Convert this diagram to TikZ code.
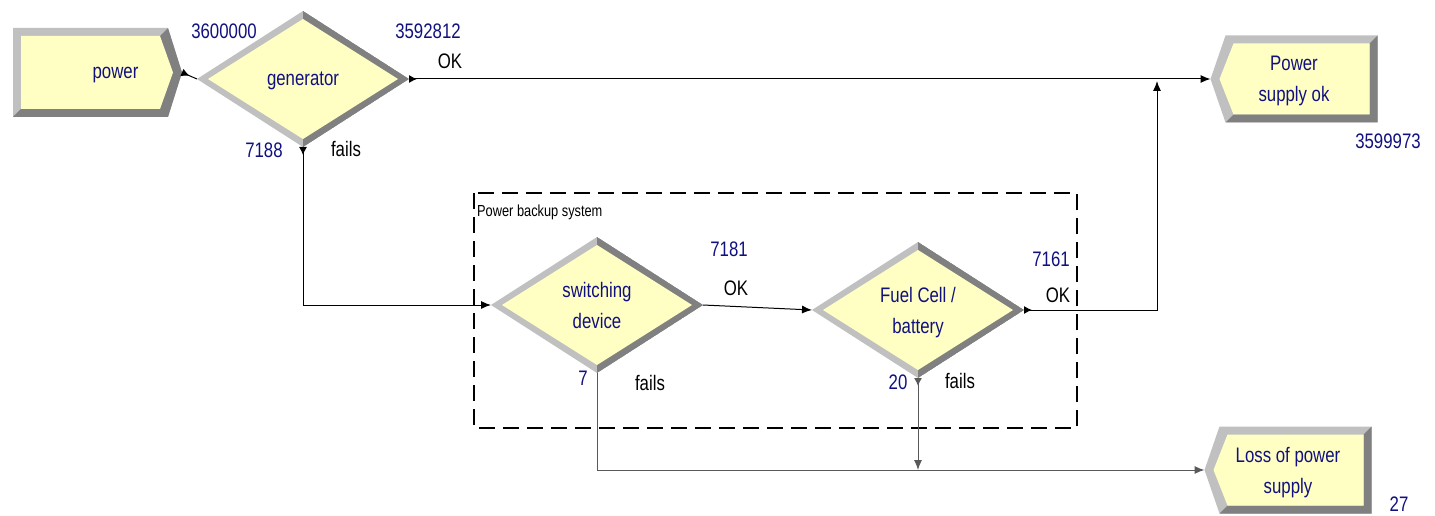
\documentclass[tikz,border=0pt]{standalone}
\usepackage{fontspec}
\setmainfont{Liberation Sans}[FakeStretch=0.8]
\usetikzlibrary{arrows.meta,shapes.geometric}
\definecolor{navy}{RGB}{16,16,128}
\definecolor{bevlight}{RGB}{192,192,192}
\definecolor{bevdark}{RGB}{128,128,128}
\definecolor{modfill}{RGB}{255,255,196}

\begin{document}
\begin{tikzpicture}[x=1pt, y=-1pt,
  modtext/.style={text=navy, align=center, text depth=0pt, font=\fontsize{21}{31}\selectfont},
  decide/.style={diamond, modtext, minimum width=212pt, minimum height=136pt,
    inner sep=0pt, outer sep=0pt, fill=bevlight,
    path picture={
      \fill[bevdark] (path picture bounding box.north) -- (path picture bounding box.east)
        -- (path picture bounding box.south) -- cycle;
      \fill[modfill] ([yshift=-8pt]path picture bounding box.north)
        -- ([xshift=-11pt]path picture bounding box.east)
        -- ([yshift=8pt]path picture bounding box.south)
        -- ([xshift=11pt]path picture bounding box.west) -- cycle;
    }},
  create/.style={rectangle, modtext, minimum width=169pt, minimum height=89pt,
    inner sep=0pt, outer sep=0pt,
    path picture={
      \fill[bevlight] (path picture bounding box.north west)
        -- ([xshift=-14pt]path picture bounding box.north east)
        -- (path picture bounding box.east)
        -- ([xshift=-14pt]path picture bounding box.south east)
        -- (path picture bounding box.south west) -- cycle;
      \fill[bevdark] (path picture bounding box.south west)
        -- ([xshift=-14pt]path picture bounding box.south east)
        -- (path picture bounding box.east)
        -- ([xshift=-14pt]path picture bounding box.north east)
        -- ([xshift=-22pt,yshift=-8pt]path picture bounding box.north east)
        -- ([xshift=-22pt,yshift=8pt]path picture bounding box.south east)
        -- ([xshift=8pt,yshift=8pt]path picture bounding box.south west) -- cycle;
      \fill[modfill] ([xshift=8pt,yshift=-8pt]path picture bounding box.north west)
        -- ([xshift=-22pt,yshift=-8pt]path picture bounding box.north east)
        -- ([xshift=-9pt]path picture bounding box.east)
        -- ([xshift=-22pt,yshift=8pt]path picture bounding box.south east)
        -- ([xshift=8pt,yshift=8pt]path picture bounding box.south west) -- cycle;
    }},
  dispose/.style={rectangle, modtext, minimum width=167pt, minimum height=87pt,
    inner sep=0pt, outer sep=0pt,
    path picture={
      \fill[bevlight] (path picture bounding box.north east)
        -- ([xshift=15pt]path picture bounding box.north west)
        -- (path picture bounding box.west)
        -- ([xshift=15pt]path picture bounding box.south west)
        -- (path picture bounding box.south east) -- cycle;
      \fill[bevdark] (path picture bounding box.north east)
        -- (path picture bounding box.south east)
        -- ([xshift=15pt]path picture bounding box.south west)
        -- ([xshift=23pt,yshift=8pt]path picture bounding box.south west)
        -- ([xshift=-8pt,yshift=8pt]path picture bounding box.south east)
        -- ([xshift=-8pt,yshift=-8pt]path picture bounding box.north east) -- cycle;
      \fill[modfill] ([xshift=23pt,yshift=-8pt]path picture bounding box.north west)
        -- ([xshift=-8pt,yshift=-8pt]path picture bounding box.north east)
        -- ([xshift=-8pt,yshift=8pt]path picture bounding box.south east)
        -- ([xshift=23pt,yshift=8pt]path picture bounding box.south west)
        -- ([xshift=9pt]path picture bounding box.west) -- cycle;
    }},
  count/.style={text=navy, inner sep=0pt, font=\fontsize{21}{25}\selectfont},
  branch/.style={text=black, inner sep=0pt, font=\fontsize{21}{25}\selectfont},
  feed/.style={line width=1pt, {Latex[reversed,length=8pt,width=8pt]}-},
  flow/.style={line width=1pt, -{Latex[length=10pt,width=8pt]}},
  outflow/.style={line width=1pt, {Latex[reversed,length=8pt,width=8pt]}-{Latex[length=10pt,width=8pt]}},
  groupbox/.style={line width=2.5pt, dash pattern=on 16pt off 8pt}
]
  \useasboundingbox (0,0) rectangle (1435,516);

  % modules
  \node[create] (power) at (97.5,72.5) {\hspace*{36pt}power};
  \node[decide] (gen) at (303,79) {generator};
  \node[dispose] (pso) at (1294,79) {Power\\supply ok};
  \node[decide] (sw) at (597,305) {switching\\device};
  \node[decide] (fc) at (918,310) {Fuel Cell /\\battery};
  \node[dispose] (loss) at (1288,470) {Loss of power\\supply};

  % backup group
  \draw[groupbox] (474,193) rectangle (1077,428);
  \node[anchor=west, inner sep=0pt, font=\fontsize{16}{19}\selectfont] (grp) at (477,212) {Power backup system};

  % counters
  \node[count] (cGenIn) at (224,31) {3600000};
  \node[count] (cGenOk) at (428,31) {3592812};
  \node[count] (cGenFail) at (264,150) {7188};
  \node[count] (cOk) at (1388,141) {3599973};
  \node[count] (cSwOk) at (729,249) {7181};
  \node[count] (cSwFail) at (583,378) {7};
  \node[count] (cFcOk) at (1051,259) {7161};
  \node[count] (cFcFail) at (898,382) {20};
  \node[count] (cLoss) at (1399,504) {27};

  % branch labels
  \node[branch] (bGenOk) at (450,61) {OK};
  \node[branch] (bGenFail) at (346,149) {fails};
  \node[branch] (bSwOk) at (736,288) {OK};
  \node[branch] (bSwFail) at (650,383) {fails};
  \node[branch] (bFcOk) at (1058,295) {OK};
  \node[branch] (bFcFail) at (960,381) {fails};

  % connectors
  \coordinate (join) at (1157,81);
  \draw[feed] (power.east) -- (gen.west);
  \draw[outflow] (gen.east) -- (pso.west);
  \draw[outflow] (gen.south) |- (sw.west);
  \draw[flow] (sw.east) -- (fc.west);
  \draw[flow, draw=gray!70!black] (sw.south) |- (loss.west);
  \draw[outflow, draw=gray!70!black] (fc.south) -- (fc.south |- loss.west);
  \draw[outflow] (fc.east) -| (join);
\end{tikzpicture}
\end{document}
